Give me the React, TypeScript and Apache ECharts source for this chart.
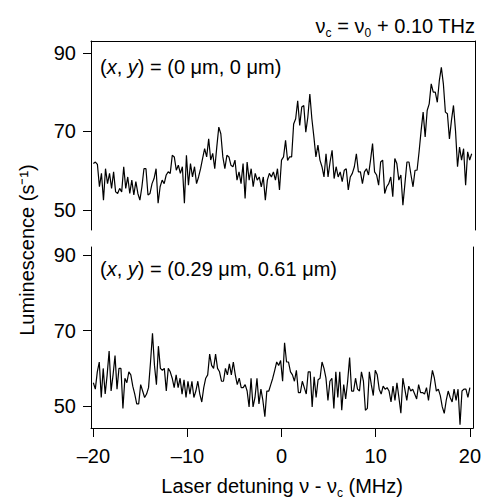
import React, { useEffect, useRef } from "react";
import * as echarts from "echarts";

const X_START = -20;
const X_END = 20;
const X_MIN = -20.25;
const X_MAX = 20.35;
const X_TICKS = [-20, -10, 0, 10, 20];
const Y_TICKS = [50, 70, 90];
const TOP_Y_RANGE = [44.9, 93.0];
const BOTTOM_Y_RANGE = [44.2, 92.2];

const TITLE = "ν{sub|c} = ν{sub|0} + 0.10 THz";
const TOP_LABEL = "({i|x}, {i|y}) = (0 μm, 0 μm)";
const BOTTOM_LABEL = "({i|x}, {i|y}) = (0.29 μm, 0.61 μm)";
const Y_NAME = "Luminescence (s⁻¹)";
const X_NAME = "Laser detuning ν - ν{sub|c} (MHz)";

// Luminescence, (x, y) = (0, 0)
const TOP_VALUES = [
  61.8, 62.2, 61.6, 55.9, 59.3, 52.5, 60.5, 56.7, 59.3, 55.5, 59.7, 54.6, 54.2, 55.5, 54.6, 61.0,
  55.5, 58.4, 54.2, 57.6, 53.8, 57.2, 54.2, 52.5, 55.9, 60.5, 60.5, 53.8, 54.2, 56.7, 58.0, 60.5,
  51.7, 55.9, 57.6, 56.7, 58.9, 59.7, 59.3, 63.9, 63.5, 60.1, 61.4, 59.3, 61.0, 51.7, 63.9, 56.3,
  61.8, 58.4, 61.0, 56.7, 58.4, 60.5, 63.1, 65.6, 63.5, 68.1, 62.7, 64.4, 60.5, 66.0, 71.1, 69.4,
  63.5, 60.5, 63.9, 63.5, 61.4, 61.0, 62.7, 57.6, 59.7, 56.7, 61.8, 52.9, 62.2, 57.6, 60.5, 55.9,
  59.3, 57.6, 58.4, 55.9, 58.4, 52.5, 57.6, 59.3, 58.4, 59.7, 57.6, 60.5, 55.1, 62.7, 63.5,
  67.7, 62.6, 63.5, 63.5, 71.9, 73.2, 77.8, 71.5, 76.2, 76.6, 69.8, 73.6, 79.5, 73.2, 68.6, 63.5,
  66.5, 62.7, 61.0, 58.4, 64.3, 58.4, 62.2, 65.2, 58.0, 61.0, 58.4, 59.7, 57.2, 60.1, 60.5, 55.1,
  58.4, 59.3, 61.0, 64.3, 59.7, 59.7, 56.7, 59.7, 60.5, 58.9, 62.7, 66.9, 59.7, 58.9, 56.3, 62.2,
  62.7, 54.2, 55.9, 56.7, 58.4, 53.4, 63.1, 61.8, 57.6, 58.9, 51.2, 56.7, 62.2, 62.2, 58.9, 55.9,
  60.1, 60.1, 64.8, 70.2, 74.9, 68.6, 75.3, 77.0, 82.1, 80.0, 80.0, 77.4, 82.9, 86.3, 82.1, 74.9,
  74.5, 68.1, 72.8, 76.6, 70.2, 61.0, 66.0, 62.7, 65.6, 56.3, 64.8, 62.7, 64.3,
];

// Luminescence, (x, y) = (0.29, 0.61)
const BOTTOM_VALUES = [
  56.2, 54.5, 59.1, 61.7, 52.3, 60.0, 53.2, 58.3, 64.6, 54.0, 58.3, 63.4, 54.5, 60.0, 60.0, 49.4,
  57.4, 56.2, 59.1, 58.3, 55.3, 53.2, 50.6, 50.6, 55.7, 54.0, 52.3, 53.2, 54.9, 61.7, 69.3, 60.8,
  55.7, 65.9, 60.0, 59.5, 60.0, 54.0, 60.0, 59.1, 57.4, 54.9, 58.3, 54.9, 57.4, 53.2, 57.0, 52.3,
  56.6, 53.2, 56.6, 52.3, 54.0, 56.6, 53.2, 51.1, 54.9, 57.4, 58.3, 63.8, 60.8, 60.0, 63.8, 60.0,
  59.1, 56.6, 56.6, 60.0, 58.3, 61.2, 58.3, 61.7, 58.3, 55.7, 57.4, 54.9, 54.9, 55.7, 54.0, 49.8,
  57.4, 49.8, 52.3, 57.4, 50.6, 54.5, 51.5, 47.2, 54.0, 54.0, 55.7, 57.4, 59.5, 61.7, 60.8, 62.1,
  56.6, 66.8, 61.7, 61.7,
  59.1, 58.3, 56.6, 59.5, 53.6, 53.6, 56.6, 54.9, 53.2, 59.1, 59.1, 49.8, 57.8, 52.3, 57.0, 57.4,
  61.7, 60.0, 57.4, 51.5, 56.6, 57.4, 49.4, 59.1, 52.3, 59.1, 48.9, 55.7, 51.9, 56.6, 62.9, 54.0,
  54.0, 57.4, 54.5, 54.0, 59.1, 56.6, 48.9, 49.4, 59.1, 55.7, 52.8, 59.5, 58.3, 54.5, 53.2, 55.3,
  54.5, 54.9, 54.0, 51.1, 55.3, 51.5, 56.2, 52.3, 48.1, 57.4, 54.5, 51.5, 55.3, 54.0, 54.5, 53.2,
  51.9, 55.7, 53.6, 53.6, 53.2, 54.9, 51.5, 55.7, 59.5, 57.4, 54.0, 54.5, 52.8, 49.8, 48.1, 51.5,
  54.0, 52.3, 51.1, 54.5, 51.5, 54.5, 45.1, 54.0, 54.5, 54.5, 52.3, 54.9,
];

const FONT = "'Liberation Sans', Arial, Helvetica, sans-serif";

function toPairs(values: number[]): number[][] {
  const step = (X_END - X_START) / (values.length - 1);
  return values.map((v, i) => [X_START + i * step, v]);
}

const fmtTick = (v: number) => (v < 0 ? "–" + Math.abs(v) : String(v));

export default function App() {
  const ref = useRef<HTMLDivElement>(null);
  useEffect(() => {
    if (!ref.current) return;
    const chart = echarts.init(ref.current, undefined, { renderer: "svg" });
    const lineStyle = { color: "#000", width: 1 };
    const leftY = (grid: number, range: number[]) => ({
      type: "value",
      gridIndex: grid,
      min: range[0],
      max: range[1],
      position: "left",
      axisLine: { show: true, onZero: false, lineStyle },
      axisTick: { show: true, inside: false, length: 8, customValues: Y_TICKS, lineStyle },
      axisLabel: {
        show: true,
        customValues: Y_TICKS,
        margin: 15,
        fontSize: 20,
        color: "#000",
        fontFamily: FONT,
      },
      splitLine: { show: false },
    });
    const rightY = (grid: number, range: number[]) => ({
      type: "value",
      gridIndex: grid,
      min: range[0],
      max: range[1],
      position: "right",
      axisLine: { show: true, onZero: false, lineStyle },
      axisTick: { show: false },
      axisLabel: { show: false },
      splitLine: { show: false },
    });
    const option: any = {
      animation: false,
      textStyle: { fontFamily: FONT, color: "#000" },
      grid: [
        { left: 91, top: 41, width: 384, height: 189 },
        { left: 91, top: 247, width: 384, height: 188 },
      ],
      xAxis: [
        {
          type: "value",
          gridIndex: 0,
          min: X_MIN,
          max: X_MAX,
          position: "top",
          axisLine: { show: true, onZero: false, lineStyle },
          axisTick: { show: false },
          axisLabel: { show: false },
          splitLine: { show: false },
        },
        {
          type: "value",
          gridIndex: 1,
          min: X_MIN,
          max: X_MAX,
          position: "bottom",
          axisLine: { show: true, onZero: false, lineStyle },
          axisTick: { show: true, inside: false, length: 9, customValues: X_TICKS, lineStyle },
          axisLabel: {
            show: true,
            customValues: X_TICKS,
            formatter: fmtTick,
            margin: 18,
            fontSize: 20,
            color: "#000",
            fontFamily: FONT,
          },
          splitLine: { show: false },
          name: X_NAME,
          nameLocation: "middle",
          nameGap: 45,
          nameTextStyle: {
            fontSize: 20,
            color: "#000",
            fontFamily: FONT,
            rich: { sub: { fontSize: 12, fontFamily: FONT, color: "#000", padding: [14, 0, 0, 0] } },
          },
        },
      ],
      yAxis: [leftY(0, TOP_Y_RANGE), rightY(0, TOP_Y_RANGE), leftY(1, BOTTOM_Y_RANGE), rightY(1, BOTTOM_Y_RANGE)],
      series: [
        {
          type: "line",
          xAxisIndex: 0,
          yAxisIndex: 0,
          data: toPairs(TOP_VALUES),
          showSymbol: false,
          symbol: "none",
          silent: true,
          lineStyle: { color: "#000", width: 1.2 },
        },
        {
          type: "line",
          xAxisIndex: 1,
          yAxisIndex: 2,
          data: toPairs(BOTTOM_VALUES),
          showSymbol: false,
          symbol: "none",
          silent: true,
          lineStyle: { color: "#000", width: 1.2 },
        },
      ],
      graphic: [
        {
          type: "text",
          x: 475,
          y: 26,
          style: {
            text: TITLE,
            align: "right",
            verticalAlign: "middle",
            fontSize: 20,
            fontFamily: FONT,
            fill: "#000",
            rich: { sub: { fontSize: 12, fontFamily: FONT, fill: "#000", padding: [14, 0, 0, 0] } },
          },
        },
        {
          type: "text",
          x: 100,
          y: 67,
          style: {
            text: TOP_LABEL,
            align: "left",
            verticalAlign: "middle",
            fontSize: 20,
            fontFamily: FONT,
            fill: "#000",
            rich: { i: { fontSize: 20, fontStyle: "italic", fontFamily: FONT, fill: "#000" } },
          },
        },
        {
          type: "text",
          x: 100,
          y: 269,
          style: {
            text: BOTTOM_LABEL,
            align: "left",
            verticalAlign: "middle",
            fontSize: 20,
            fontFamily: FONT,
            fill: "#000",
            rich: { i: { fontSize: 20, fontStyle: "italic", fontFamily: FONT, fill: "#000" } },
          },
        },
        {
          type: "text",
          x: 27,
          y: 250,
          rotation: Math.PI / 2,
          style: {
            text: Y_NAME,
            align: "center",
            verticalAlign: "middle",
            fontSize: 20,
            fontFamily: FONT,
            fill: "#000",
          },
        },
      ],
    };
    chart.setOption(option);
    return () => chart.dispose();
  }, []);
  return (
    <div
      ref={ref}
      style={{ position: "absolute", left: 0, top: 0, width: 484, height: 500, background: "#fff" }}
    />
  );
}
